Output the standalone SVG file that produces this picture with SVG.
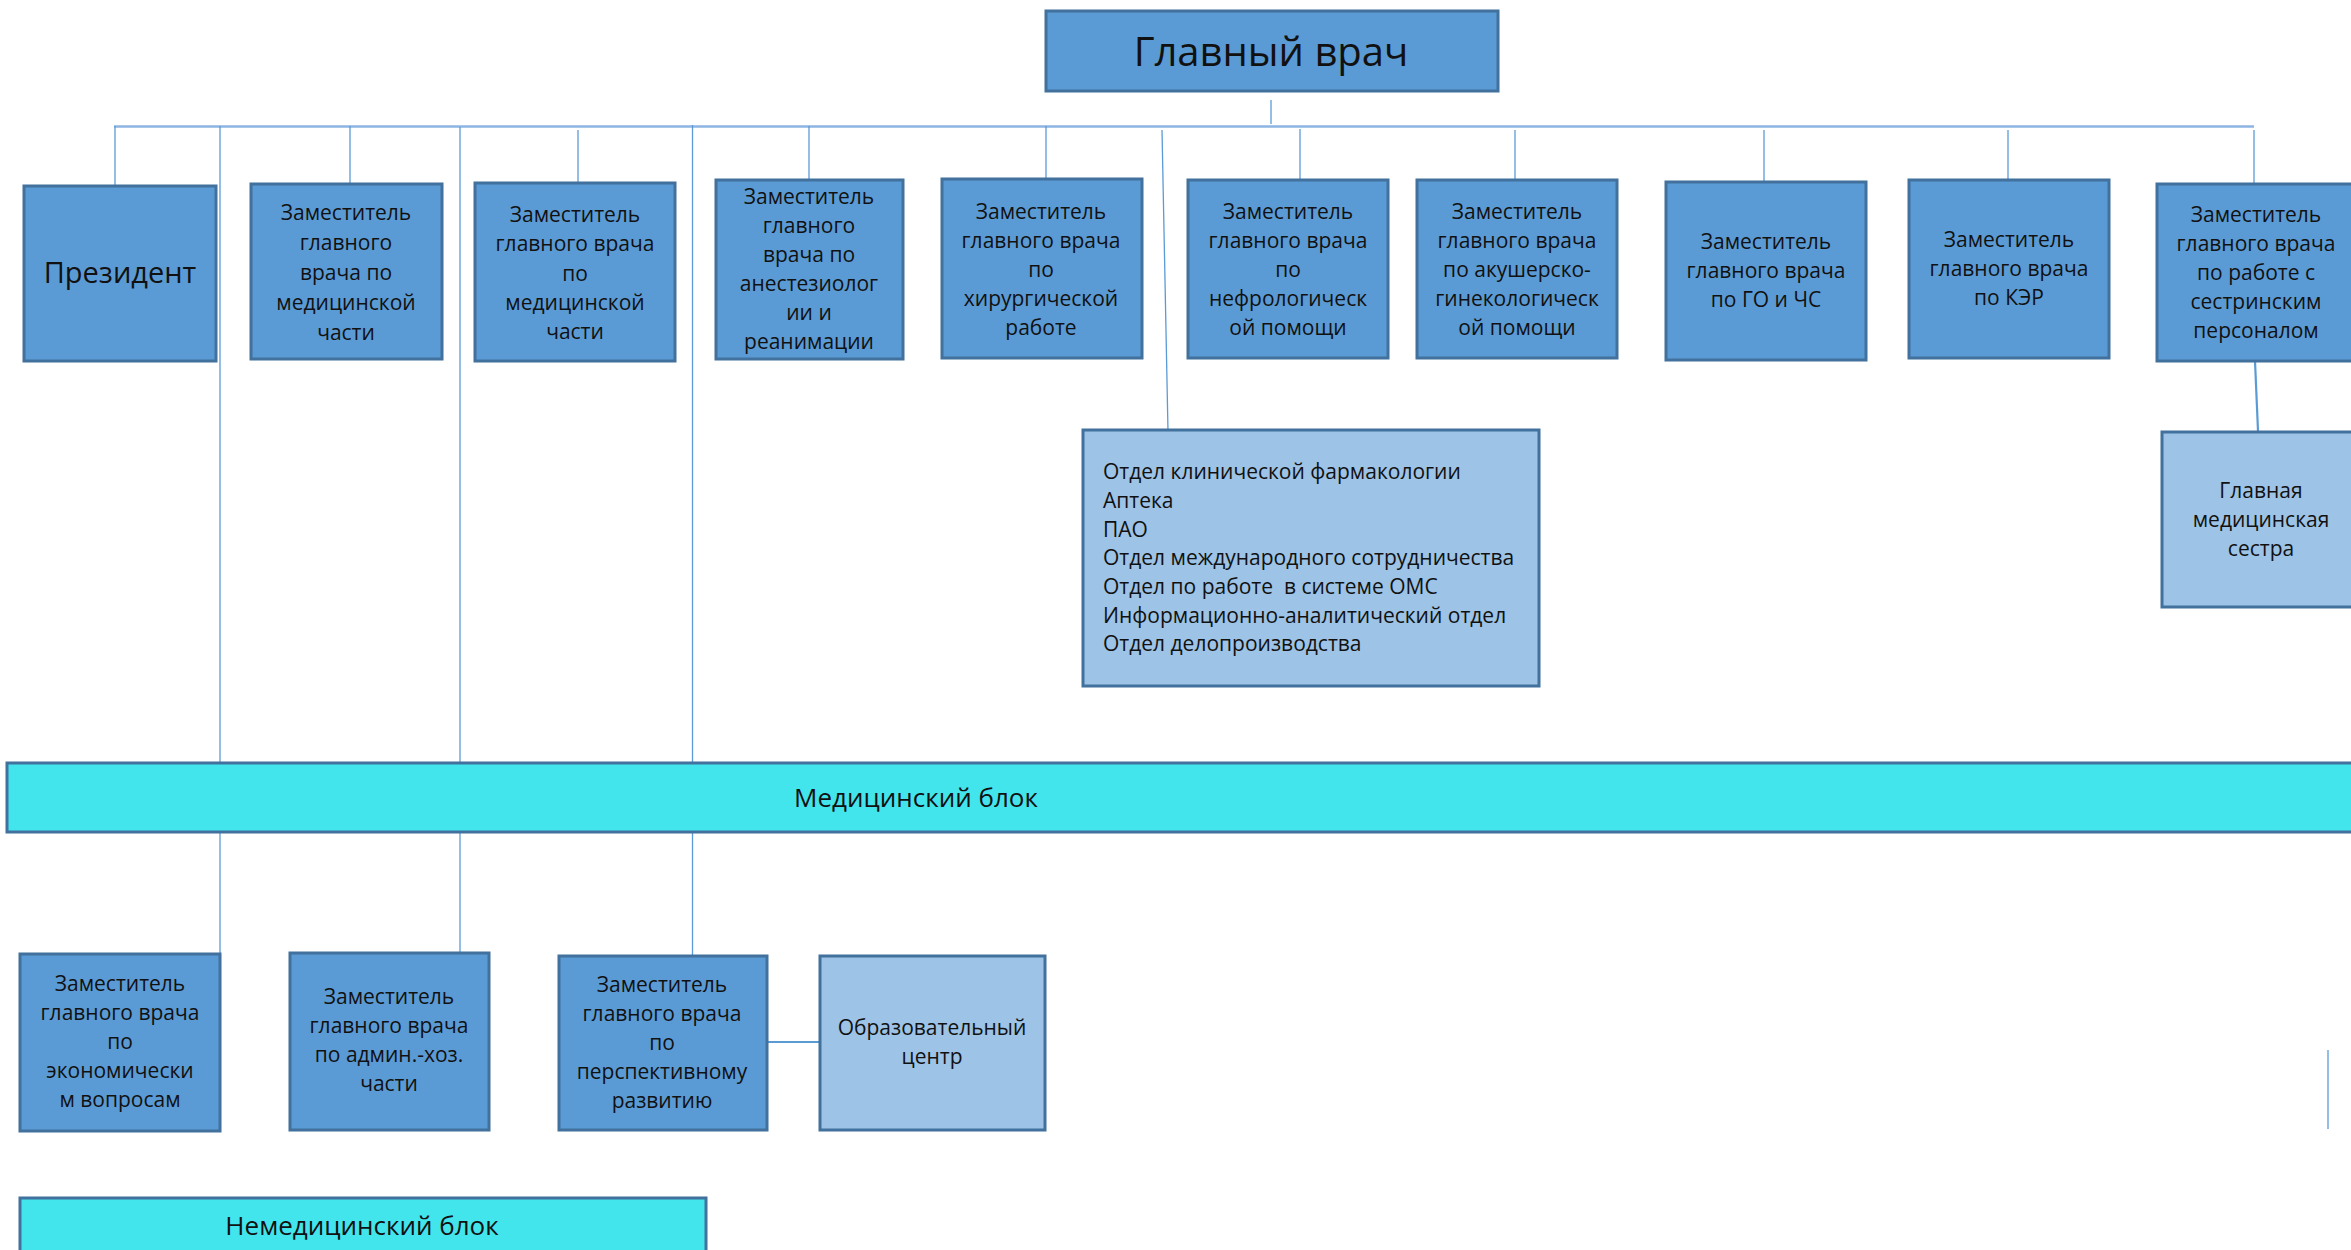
<svg xmlns="http://www.w3.org/2000/svg" width="2351" height="1250" viewBox="0 0 2351 1250">
<style>
.box{fill:#5B9BD5;stroke:#41719C;stroke-width:3}
.lbox{fill:#9DC3E6;stroke:#41719C;stroke-width:3}
.cbox{fill:#43E5ED;stroke:#41719C;stroke-width:3}
.t{font-family:"Open Sans","Noto Sans",sans-serif;font-size:21px;fill:#111;text-anchor:middle}
.tl{font-family:"Open Sans","Noto Sans",sans-serif;font-size:21px;fill:#111}
.big{font-family:"Open Sans","Noto Sans",sans-serif;fill:#111;text-anchor:middle}
.ln{stroke:#5B9BD5;stroke-width:1.3;fill:none}
.ln2{stroke:#5B9BD5;stroke-width:2.2;fill:none}
.main{stroke:#8DB4E2;stroke-width:2.5;fill:none}
</style>
<rect width="2351" height="1250" fill="#FFFFFF"/>
<g id="connectors">
<line class="main" x1="114" y1="126.5" x2="2254" y2="126.5"/>
<line class="ln" x1="1271" y1="100" x2="1271" y2="124"/>
<line class="ln" x1="115" y1="126" x2="115" y2="185"/>
<line class="ln" x1="350" y1="126" x2="350" y2="183"/>
<line class="ln" x1="578" y1="130" x2="578" y2="182"/>
<line class="ln" x1="809" y1="126" x2="809" y2="179"/>
<line class="ln" x1="1046" y1="126" x2="1046" y2="178"/>
<line class="ln" x1="1300" y1="129" x2="1300" y2="179"/>
<line class="ln" x1="1515" y1="130" x2="1515" y2="179"/>
<line class="ln" x1="1764" y1="130" x2="1764" y2="181"/>
<line class="ln" x1="2008" y1="130" x2="2008" y2="179"/>
<line class="ln" x1="2254" y1="130" x2="2254" y2="183"/>
<line class="ln" x1="1162" y1="130" x2="1168" y2="431"/>
<line class="ln2" x1="2255" y1="361" x2="2258" y2="431"/>
<line class="ln" x1="220" y1="126" x2="220" y2="953"/>
<line class="ln" x1="460" y1="127" x2="460" y2="952"/>
<line class="ln" x1="692.5" y1="125" x2="692.5" y2="955"/>
<line class="ln2" x1="767" y1="1042" x2="819" y2="1042"/>
<line class="ln" x1="2328" y1="1050" x2="2328" y2="1129"/>
</g>
<g id="n-glavvrach">
<rect class="box" x="1046" y="11" width="452" height="80"/>
<text class="big" x="1271" y="66" font-size="40">Главный врач</text>
</g>
<g id="n-president">
<rect class="box" x="24" y="186" width="192" height="175"/>
<text class="big" x="120" y="283" font-size="29">Президент</text>
</g>
<g id="n-med1">
<rect class="box" x="251" y="184" width="191" height="175"/>
<text class="t" x="346"><tspan x="346" y="220">Заместитель</tspan><tspan x="346" y="250">главного</tspan><tspan x="346" y="280">врача по</tspan><tspan x="346" y="310">медицинской</tspan><tspan x="346" y="340">части</tspan></text>
</g>
<g id="n-med2">
<rect class="box" x="475" y="183" width="200" height="178"/>
<text class="t" x="575"><tspan x="575" y="222">Заместитель</tspan><tspan x="575" y="251">главного врача</tspan><tspan x="575" y="281">по</tspan><tspan x="575" y="310">медицинской</tspan><tspan x="575" y="339">части</tspan></text>
</g>
<g id="n-anest">
<rect class="box" x="716" y="180" width="187" height="179"/>
<text class="t" x="809"><tspan x="809" y="204">Заместитель</tspan><tspan x="809" y="233">главного</tspan><tspan x="809" y="262">врача по</tspan><tspan x="809" y="291">анестезиолог</tspan><tspan x="809" y="320">ии и</tspan><tspan x="809" y="349">реанимации</tspan></text>
</g>
<g id="n-hir">
<rect class="box" x="942" y="179" width="200" height="179"/>
<text class="t" x="1041"><tspan x="1041" y="219">Заместитель</tspan><tspan x="1041" y="248">главного врача</tspan><tspan x="1041" y="277">по</tspan><tspan x="1041" y="306">хирургической</tspan><tspan x="1041" y="335">работе</tspan></text>
</g>
<g id="n-nefro">
<rect class="box" x="1188" y="180" width="200" height="178"/>
<text class="t" x="1288"><tspan x="1288" y="219">Заместитель</tspan><tspan x="1288" y="248">главного врача</tspan><tspan x="1288" y="277">по</tspan><tspan x="1288" y="306">нефрологическ</tspan><tspan x="1288" y="335">ой помощи</tspan></text>
</g>
<g id="n-akush">
<rect class="box" x="1417" y="180" width="200" height="178"/>
<text class="t" x="1517"><tspan x="1517" y="219">Заместитель</tspan><tspan x="1517" y="248">главного врача</tspan><tspan x="1517" y="277">по акушерско-</tspan><tspan x="1517" y="306">гинекологическ</tspan><tspan x="1517" y="335">ой помощи</tspan></text>
</g>
<g id="n-go">
<rect class="box" x="1666" y="182" width="200" height="178"/>
<text class="t" x="1766"><tspan x="1766" y="249">Заместитель</tspan><tspan x="1766" y="278">главного врача</tspan><tspan x="1766" y="307">по ГО и ЧС</tspan></text>
</g>
<g id="n-ker">
<rect class="box" x="1909" y="180" width="200" height="178"/>
<text class="t" x="2009"><tspan x="2009" y="247">Заместитель</tspan><tspan x="2009" y="276">главного врача</tspan><tspan x="2009" y="305">по КЭР</tspan></text>
</g>
<g id="n-sestr">
<rect class="box" x="2157" y="184" width="200" height="177"/>
<text class="t" x="2256"><tspan x="2256" y="222">Заместитель</tspan><tspan x="2256" y="251">главного врача</tspan><tspan x="2256" y="280">по работе с</tspan><tspan x="2256" y="309">сестринским</tspan><tspan x="2256" y="338">персоналом</tspan></text>
</g>
<g id="n-otdel">
<rect class="lbox" x="1083" y="430" width="456" height="256"/>
<text class="tl"><tspan x="1103" y="479">Отдел клинической фармакологии</tspan><tspan x="1103" y="508">Аптека</tspan><tspan x="1103" y="537">ПАО</tspan><tspan x="1103" y="565">Отдел международного сотрудничества</tspan><tspan x="1103" y="594">Отдел по работе &#160;в системе ОМС</tspan><tspan x="1103" y="623">Информационно-аналитический отдел</tspan><tspan x="1103" y="651">Отдел делопроизводства</tspan></text>
</g>
<g id="n-glavsestra">
<rect class="lbox" x="2162" y="432" width="200" height="175"/>
<text class="t" x="2261"><tspan x="2261" y="498">Главная</tspan><tspan x="2261" y="527">медицинская</tspan><tspan x="2261" y="556">сестра</tspan></text>
</g>
<g id="n-medblok">
<rect class="cbox" x="7" y="763" width="2360" height="69"/>
<text class="big" x="916" y="807" font-size="26">Медицинский блок</text>
</g>
<g id="n-econ">
<rect class="box" x="20" y="954" width="200" height="177"/>
<text class="t" x="120"><tspan x="120" y="991">Заместитель</tspan><tspan x="120" y="1020">главного врача</tspan><tspan x="120" y="1049">по</tspan><tspan x="120" y="1078">экономически</tspan><tspan x="120" y="1107">м вопросам</tspan></text>
</g>
<g id="n-adm">
<rect class="box" x="290" y="953" width="199" height="177"/>
<text class="t" x="389"><tspan x="389" y="1004">Заместитель</tspan><tspan x="389" y="1033">главного врача</tspan><tspan x="389" y="1062">по админ.-хоз.</tspan><tspan x="389" y="1091">части</tspan></text>
</g>
<g id="n-persp">
<rect class="box" x="559" y="956" width="208" height="174"/>
<text class="t" x="662"><tspan x="662" y="992">Заместитель</tspan><tspan x="662" y="1021">главного врача</tspan><tspan x="662" y="1050">по</tspan><tspan x="662" y="1079">перспективному</tspan><tspan x="662" y="1108">развитию</tspan></text>
</g>
<g id="n-obraz">
<rect class="lbox" x="820" y="956" width="225" height="174"/>
<text class="t" x="932"><tspan x="932" y="1035">Образовательный</tspan><tspan x="932" y="1064">центр</tspan></text>
</g>
<g id="n-nemedblok">
<rect class="cbox" x="20" y="1198" width="686" height="70"/>
<text class="big" x="362" y="1235" font-size="26">Немедицинский блок</text>
</g>
</svg>
